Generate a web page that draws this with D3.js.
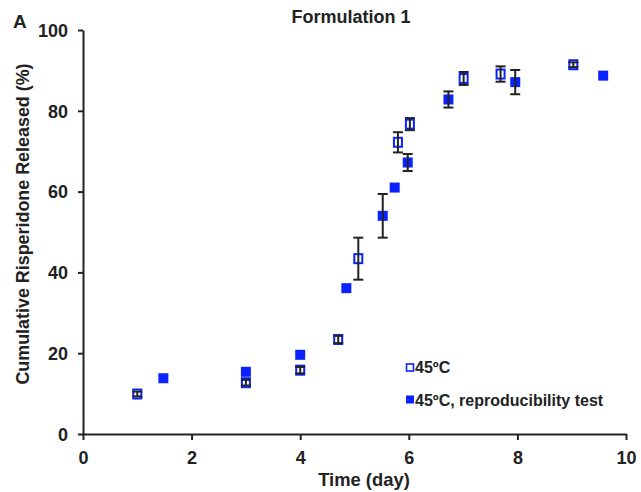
<!DOCTYPE html>
<html>
<head>
<meta charset="utf-8">
<script src="https://cdn.jsdelivr.net/npm/d3@7"></script>
<style>
  body { margin: 0; background: #fff; }
  text { font-family: "Liberation Sans", Arial, sans-serif; font-weight: bold; fill: #222; }
</style>
</head>
<body>
<div id="chart"></div>
<script>
// 45ºC series (open squares)
var openDays = [1, 3, 4, 4.7, 5.07, 5.8, 6.02, 7.01, 7.69, 9.03];
var openValues = [9.9, 12.7, 15.8, 23.4, 43.4, 72.2, 76.7, 88.0, 89.1, 91.4];
var openErrors = [0.6, 0.7, 0.8, 0.9, 5.2, 2.5, 1.5, 1.6, 1.9, 0.6];

// 45ºC reproducibility test (filled squares)
var fillDays = [1.48, 3, 4, 4.85, 5.52, 5.74, 5.98, 6.73, 7.96, 9.58];
var fillValues = [13.8, 15.4, 19.6, 36.1, 54.0, 61.0, 67.2, 82.8, 87.1, 88.7];
var fillErrors = [0, 0, 0, 0, 5.4, 0, 2.1, 2.0, 3.0, 0];

var xTicks = [0, 2, 4, 6, 8, 10];
var yTicks = [0, 20, 40, 60, 80, 100];
var legendLabels = ["45ºC", "45ºC, reproducibility test"];

var width = 641, height = 492;
var blue = "#0a22ff";
var ink = "#222";

var svg = d3.select("#chart").append("svg")
    .attr("width", width)
    .attr("height", height);

var x = d3.scaleLinear().domain([0, 10]).range([83, 626]);
var y = d3.scaleLinear().domain([0, 100]).range([434, 30]);

// axes
var xAxis = svg.append("g")
    .attr("transform", "translate(0," + y(0) + ")")
    .call(d3.axisBottom(x).tickValues(xTicks).tickSize(5).tickSizeOuter(0).tickPadding(12));
var yAxis = svg.append("g")
    .attr("transform", "translate(" + x(0) + ",0)")
    .call(d3.axisLeft(y).tickValues(yTicks).tickSize(5).tickSizeOuter(0).tickPadding(10));

[xAxis, yAxis].forEach(function (g) {
    g.select(".domain").attr("stroke", ink).attr("stroke-width", 2);
    g.selectAll(".tick line").attr("stroke", ink).attr("stroke-width", 2);
    g.selectAll(".tick text").style("font-size", "18px").attr("fill", ink)
        .style("font-family", "Liberation Sans, Arial, sans-serif").style("font-weight", "bold");
});
xAxis.selectAll(".tick line").attr("y2", 6);
yAxis.selectAll(".tick text").attr("dy", "0.35em");

// error bars
function drawErrors(days, vals, errs) {
    var data = days.map(function (d, i) { return { x: d, y: vals[i], e: errs[i] }; })
        .filter(function (d) { return d.e > 0; });
    var g = svg.append("g").attr("stroke", ink).attr("stroke-width", 2);
    g.selectAll("line.v").data(data).enter().append("line")
        .attr("x1", function (d) { return x(d.x); })
        .attr("x2", function (d) { return x(d.x); })
        .attr("y1", function (d) { return y(d.y - d.e); })
        .attr("y2", function (d) { return y(d.y + d.e); });
    [-1, 1].forEach(function (s) {
        g.selectAll("line.c" + s).data(data).enter().append("line")
            .attr("x1", function (d) { return x(d.x) - 5; })
            .attr("x2", function (d) { return x(d.x) + 5; })
            .attr("y1", function (d) { return y(d.y + s * d.e); })
            .attr("y2", function (d) { return y(d.y + s * d.e); });
    });
}

var openData = openDays.map(function (d, i) { return { x: d, y: openValues[i] }; });
var fillData = fillDays.map(function (d, i) { return { x: d, y: fillValues[i] }; });

// filled markers
svg.append("g").selectAll("rect").data(fillData).enter().append("rect")
    .attr("x", function (d) { return x(d.x) - 5; })
    .attr("y", function (d) { return y(d.y) - 5; })
    .attr("width", 10).attr("height", 10)
    .attr("fill", blue);
drawErrors(fillDays, fillValues, fillErrors);

// open markers
svg.append("g").selectAll("rect").data(openData).enter().append("rect")
    .attr("x", function (d) { return x(d.x) - 4; })
    .attr("y", function (d) { return y(d.y) - 4.5; })
    .attr("width", 8).attr("height", 9)
    .attr("fill", "#fff")
    .attr("stroke", blue).attr("stroke-width", 2);
drawErrors(openDays, openValues, openErrors);

// legend
var legend = svg.append("g");
legend.append("rect").attr("x", 406.5).attr("y", 364).attr("width", 7).attr("height", 7)
    .attr("fill", "#fff").attr("stroke", blue).attr("stroke-width", 1.6);
legend.append("rect").attr("x", 406).attr("y", 395.5).attr("width", 8).attr("height", 8)
    .attr("fill", blue);
legend.selectAll("text").data(legendLabels).enter().append("text")
    .attr("x", 415)
    .attr("y", function (d, i) { return 372.5 + i * 33; })
    .style("font-size", "16px")
    .text(function (d) { return d; });

// titles
svg.append("text").attr("x", 351).attr("y", 23).attr("text-anchor", "middle")
    .style("font-size", "18px").text("Formulation 1");
svg.append("text").attr("x", 13).attr("y", 28)
    .style("font-size", "19px").text("A");
svg.append("text").attr("x", 364).attr("y", 486).attr("text-anchor", "middle")
    .style("font-size", "18.4px").text("Time (day)");
svg.append("text")
    .attr("transform", "translate(29,224) rotate(-90)")
    .attr("text-anchor", "middle")
    .style("font-size", "17.9px").text("Cumulative Risperidone Released (%)");
</script>
</body>
</html>
